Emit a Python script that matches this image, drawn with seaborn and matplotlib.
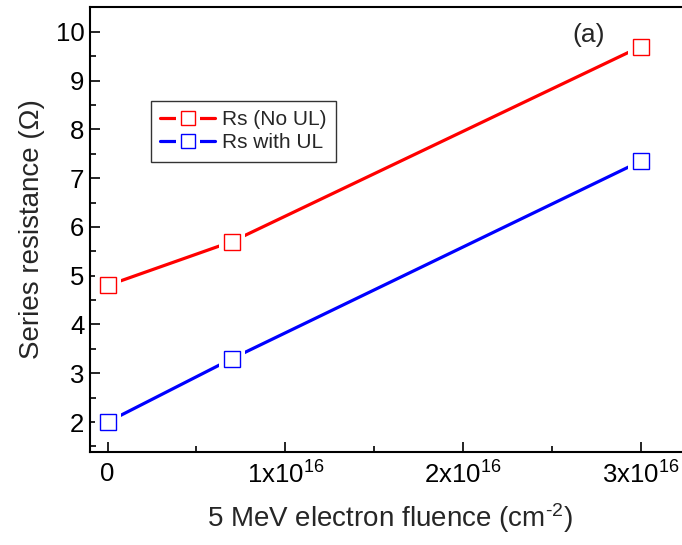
import matplotlib
matplotlib.use("Agg")
import matplotlib.pyplot as plt
import seaborn as sns
import pandas as pd
from matplotlib.lines import Line2D
from matplotlib.legend_handler import HandlerTuple
from matplotlib.ticker import MultipleLocator, FixedLocator

fluence = [0.0, 0.7e16, 3.0e16]
rs_no_ul = [4.8, 5.7, 9.7]
rs_with_ul = [2.0, 3.3, 7.35]
series_names = ["Rs (No UL)", "Rs with UL"]
colors = ["#ff0000", "#0000ff"]
xtick_vals = [0, 1e16, 2e16, 3e16]
xtick_labels = ["0", r"1x10$^{16}$", r"2x10$^{16}$", r"3x10$^{16}$"]

sns.set_style("ticks")
plt.rcParams['font.family'] = ['Liberation Sans', 'DejaVu Sans']
plt.rcParams['mathtext.default'] = 'regular'

df = pd.DataFrame({
    "x": fluence * 2,
    "y": rs_no_ul + rs_with_ul,
    "s": [series_names[0]] * 3 + [series_names[1]] * 3,
})

fig = plt.figure(figsize=(6.82, 5.45), dpi=100)
ax = fig.add_axes([90 / 682, 93 / 545, 1 - 90 / 682 + 0.01, (452 - 7) / 545])

pal = dict(zip(series_names, colors))
sns.lineplot(data=df, x="x", y="y", hue="s", palette=pal, lw=2.3, ax=ax,
             legend=False, zorder=2)
for name, c in zip(series_names, colors):
    sub = df[df.s == name]
    ax.plot(sub.x, sub.y, ls="none", marker="s", ms=19, mfc="white", mec="white",
            mew=0, zorder=3)
    ax.plot(sub.x, sub.y, ls="none", marker="s", ms=11, mfc="white", mec=c,
            mew=1.0, zorder=4)

ax.set_xlim(-0.099e16, 3.27e16)
ax.set_ylim(1.385, 10.51)
ax.xaxis.set_major_locator(FixedLocator(xtick_vals))
ax.set_xticklabels(xtick_labels)
ax.xaxis.set_minor_locator(MultipleLocator(0.5e16))
ax.yaxis.set_major_locator(MultipleLocator(1))
ax.yaxis.set_minor_locator(MultipleLocator(0.5))
ax.tick_params(which="both", direction="in", top=False, right=False, colors="black",
               labelsize=18.5, width=1.2)
ax.tick_params(which="major", length=7)
ax.tick_params(axis="x", which="major", pad=7)
ax.tick_params(axis="y", which="major", pad=4)
ax.tick_params(which="minor", length=4)
ax.spines["right"].set_visible(False)
for s in ["left", "bottom", "top"]:
    ax.spines[s].set_linewidth(1.5)
    ax.spines[s].set_color("black")

ax.set_xlabel("5 MeV electron fluence (cm$^{\u20102}$)", fontsize=20, labelpad=9)
ax.set_ylabel("Series resistance (Ω)", fontsize=20, labelpad=8)

ax.text(0.832, 0.937, "(a)", transform=ax.transAxes, fontsize=19, ha="center", va="center")

handles = []
for c in colors:
    handles.append((Line2D([], [], color=c, lw=2.3),
                    Line2D([], [], ls="none", marker="s", ms=17, mfc="white", mec="white", mew=0),
                    Line2D([], [], ls="none", marker="s", ms=10, mfc="white", mec=c, mew=1.0)))
leg = ax.legend(handles, series_names,
                handler_map={tuple: HandlerTuple(ndivide=1, pad=0)},
                loc="upper left", bbox_to_anchor=(0.102, 0.789), fontsize=15,
                frameon=True, fancybox=False, edgecolor="black", borderpad=0.45,
                handlelength=2.6, handletextpad=0.35, labelspacing=0.2, borderaxespad=0)
leg.get_frame().set_linewidth(1.0)

fig.savefig("out.png", dpi=100)
